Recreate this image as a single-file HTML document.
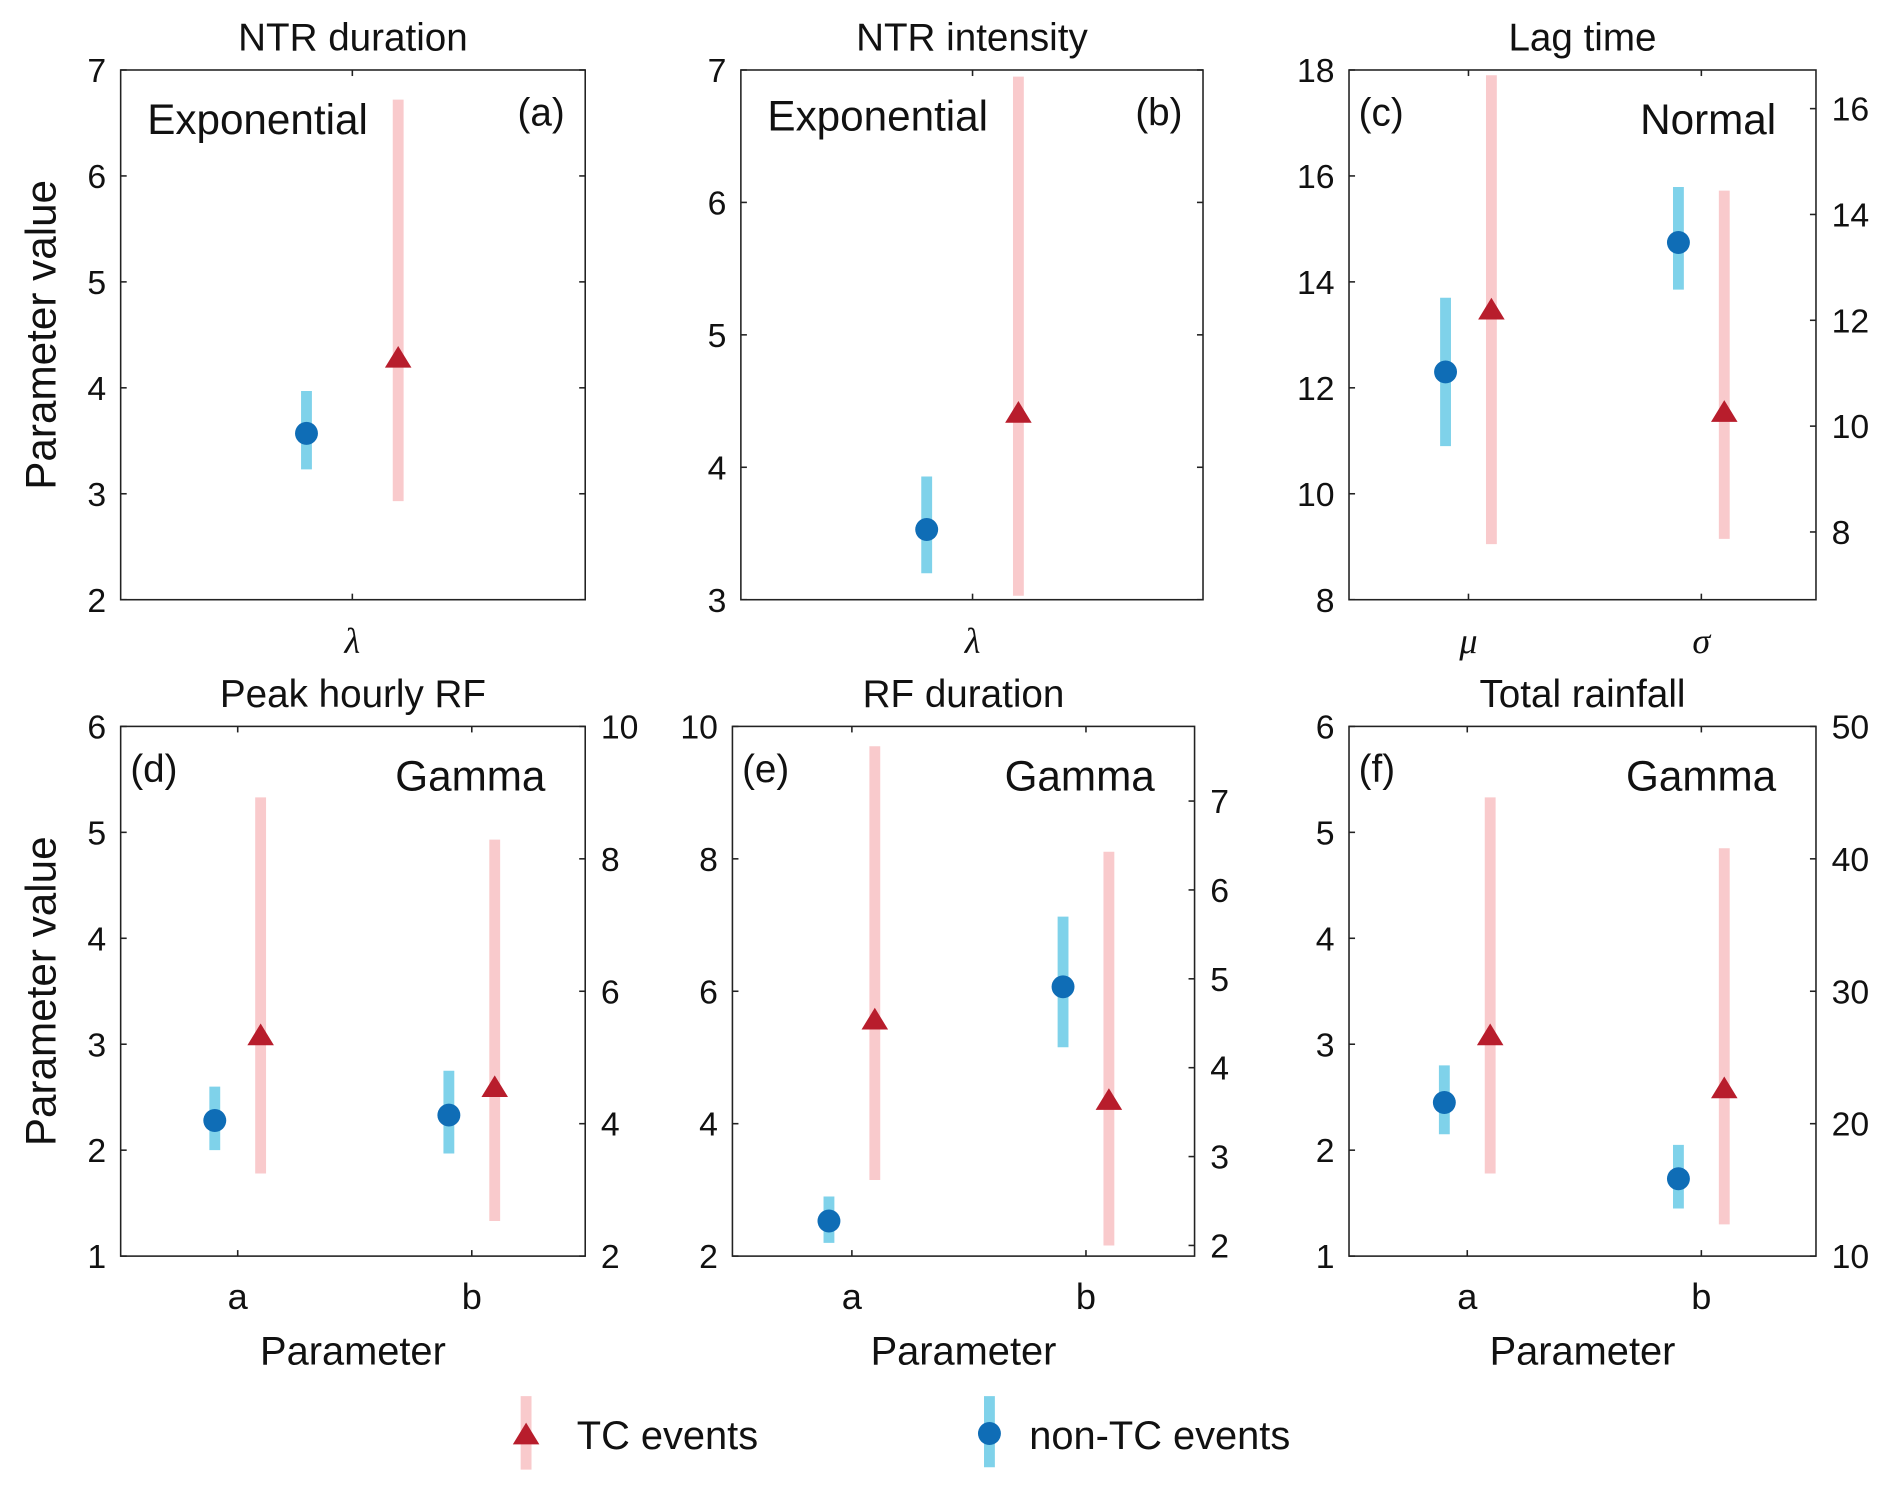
<!DOCTYPE html>
<html><head><meta charset="utf-8"><style>
html,body{margin:0;padding:0;background:#fff;}
svg{display:block;font-family:"Liberation Sans","DejaVu Sans",sans-serif;}
</style></head><body>
<svg id="fig" width="1892" height="1489" viewBox="0 0 1568 1234" xmlns="http://www.w3.org/2000/svg"></svg>
<script>
// Data arrays
const panelTitles = ["NTR duration","NTR intensity","Lag time","Peak hourly RF","RF duration","Total rainfall"];
const panelLetters = ["(a)","(b)","(c)","(d)","(e)","(f)"];
const distNames = ["Exponential","Exponential","Normal","Gamma","Gamma","Gamma"];
const leftTicks = [[2,3,4,5,6,7],[3,4,5,6,7],[8,10,12,14,16,18],[1,2,3,4,5,6],[2,4,6,8,10],[1,2,3,4,5,6]];
const rightTicks = [null,null,[8,10,12,14,16],[2,4,6,8,10],[2,3,4,5,6,7],[10,20,30,40,50]];
const categories = [["λ"],["λ"],["μ","σ"],["a","b"],["a","b"],["a","b"]];
const catAxis = [["L"],["L"],["L","R"],["L","R"],["L","R"],["L","R"]];
const nonTCLow = [[3.23],[3.2],[10.9,12.58],[2.0,3.55],[2.2,4.23],[2.15,13.6]];
const nonTCHigh = [[3.97],[3.93],[13.7,14.52],[2.6,4.8],[2.9,5.70],[2.8,18.4]];
const nonTCMid = [[3.57],[3.53],[12.3,13.47],[2.28,4.13],[2.53,4.91],[2.45,15.84]];
const tcLow = [[2.93],[3.03],[9.05,7.87],[1.78,2.53],[3.15,2.0],[1.78,12.4]];
const tcHigh = [[6.72],[6.95],[17.9,14.45],[5.33,8.29],[9.7,6.43],[5.33,40.8]];
const tcMid = [[4.27],[4.4],[13.45,10.24],[3.07,4.53],[5.55,3.62],[3.07,22.56]];

const NS="http://www.w3.org/2000/svg";
const svg=document.getElementById('fig');
function mk(tag,attrs,parent){const e=document.createElementNS(NS,tag);for(const k in attrs)e.setAttribute(k,attrs[k]);(parent||svg).appendChild(e);return e;}
function txt(s,attrs,parent){const e=mk('text',attrs,parent);e.textContent=s;return e;}

const boxes=[[100,58,485,497],[614,58,997,497],[1118,58,1505,497],[100,602,485,1041],[607,602,990,1041],[1118,602,1505,1041]];
const leftDom=[[2,7],[3,7],[8,18],[1,6],[2,10],[1,6]];
const rightDom=[null,null,[6.72,16.73],[2,10],[1.88,7.84],[10,50]];
const catX=[[292],[806],[1217,1410],[197,391],[706,900],[1216,1410]];
const offs=[38,38,19,19,19,19];
const labelsLeftOfLetter=[true,true,false,false,false,false];

for(let p=0;p<6;p++){
  const [x0,y0,x1,y1]=boxes[p];
  const g=mk('g',{});
  
  
  const yL=v=>y1-(v-leftDom[p][0])/(leftDom[p][1]-leftDom[p][0])*(y1-y0);
  const yR=v=>y1-(v-rightDom[p][0])/(rightDom[p][1]-rightDom[p][0])*(y1-y0);
  const frame=mk('rect',{x:x0,y:y0,width:x1-x0,height:y1-y0,fill:'none',stroke:'#222','stroke-width':1.3},g);
  
  
  const t=txt(panelTitles[p],{x:(x0+x1)/2,y:y0-16,'font-size':32,'text-anchor':'middle',fill:'#111'},g);
  
  
  leftTicks[p].forEach(v=>{
    const y=yL(v);
    mk('line',{x1:x0,x2:x0+5,y1:y,y2:y,stroke:'#222','stroke-width':1.3},g);
    if(!rightDom[p]) mk('line',{x1:x1,x2:x1-5,y1:y,y2:y,stroke:'#222','stroke-width':1.3},g);
    const l=txt(String(v),{x:x0-12,y:y+10,'font-size':28,'text-anchor':'end',fill:'#111'},g);
    
    
  });
  if(rightDom[p]){
    rightTicks[p].forEach(v=>{
      const y=yR(v);
      mk('line',{x1:x1,x2:x1-5,y1:y,y2:y,stroke:'#222','stroke-width':1.3},g);
      const l=txt(String(v),{x:x1+13,y:y+10,'font-size':28,'text-anchor':'start',fill:'#111'},g);
      
      
    });
  }
  categories[p].forEach((c,i)=>{
    const x=catX[p][i];
    mk('line',{x1:x,x2:x,y1:y1,y2:y1-5,stroke:'#222','stroke-width':1.3},g);
    mk('line',{x1:x,x2:x,y1:y0,y2:y0+5,stroke:'#222','stroke-width':1.3},g);
    const it=(c==='λ'||c==='μ'||c==='σ');
    const l=txt(c,{x:x,y:y1+44,'font-size':30,'text-anchor':'middle',fill:'#111','font-style':it?'italic':'normal','font-family':it?'"Liberation Serif",serif':'"Liberation Sans",sans-serif'},g);
    
    
    const sc=catAxis[p][i]==='R'?yR:yL;
    const bx=x-offs[p], rx=x+offs[p];
    const b1=mk('line',{x1:bx,x2:bx,y1:sc(nonTCLow[p][i]),y2:sc(nonTCHigh[p][i]),stroke:'#7fd2ea','stroke-width':9},g);
    
    
    const b2=mk('line',{x1:rx,x2:rx,y1:sc(tcLow[p][i]),y2:sc(tcHigh[p][i]),stroke:'#f9cacc','stroke-width':9},g);
    
    
    const cy=sc(nonTCMid[p][i]);
    const c1=mk('circle',{cx:bx,cy:cy,r:9.5,fill:'#0f6db6'},g);
    
    
    const ty=sc(tcMid[p][i]);
    const tr=mk('polygon',{points:`${rx-11},${ty+7} ${rx+11},${ty+7} ${rx},${ty-11}`,fill:'#b81d2c'},g);
    
    
  });
  if(labelsLeftOfLetter[p]){
    const d=txt(distNames[p],{x:x0+22,y:y0+(p===0?53:50),'font-size':35,fill:'#111'},g);
    
    
    const le=txt(panelLetters[p],{x:x1-17,y:y0+46,'font-size':32,'text-anchor':'end',fill:'#111'},g);
    
    
  } else {
    const d=txt(distNames[p],{x:x1-33,y:y0+53,'font-size':35,'text-anchor':'end',fill:'#111'},g);
    
    
    const le=txt(panelLetters[p],{x:x0+8,y:y0+46,'font-size':32,fill:'#111'},g);
    
    
  }
  if(p>=3){
    const xl=txt('Parameter',{x:(x0+x1)/2,y:1131,'font-size':33,'text-anchor':'middle',fill:'#111'},g);
    
    
  }
  if(p===0||p===3){
    const yc=(y0+y1)/2;
    const yt=txt('Parameter value',{x:0,y:0,'font-size':35,'text-anchor':'middle',fill:'#111',transform:`translate(46,${yc}) rotate(-90)`},g);
    
    
  }
}
const lg=mk('g',{});


const e1=mk('g',{},lg);


mk('line',{x1:436,x2:436,y1:1157,y2:1218,stroke:'#f9cacc','stroke-width':9},e1);
mk('polygon',{points:'425,1197 447,1197 436,1179',fill:'#b81d2c'},e1);
txt('TC events',{x:478,y:1201,'font-size':33,fill:'#111'},e1);
const e2=mk('g',{},lg);


mk('line',{x1:820,x2:820,y1:1157,y2:1216,stroke:'#7fd2ea','stroke-width':9},e2);
mk('circle',{cx:820,cy:1188,r:9.5,fill:'#0f6db6'},e2);
txt('non-TC events',{x:853,y:1201,'font-size':33,fill:'#111'},e2);
</script>
</body></html>
